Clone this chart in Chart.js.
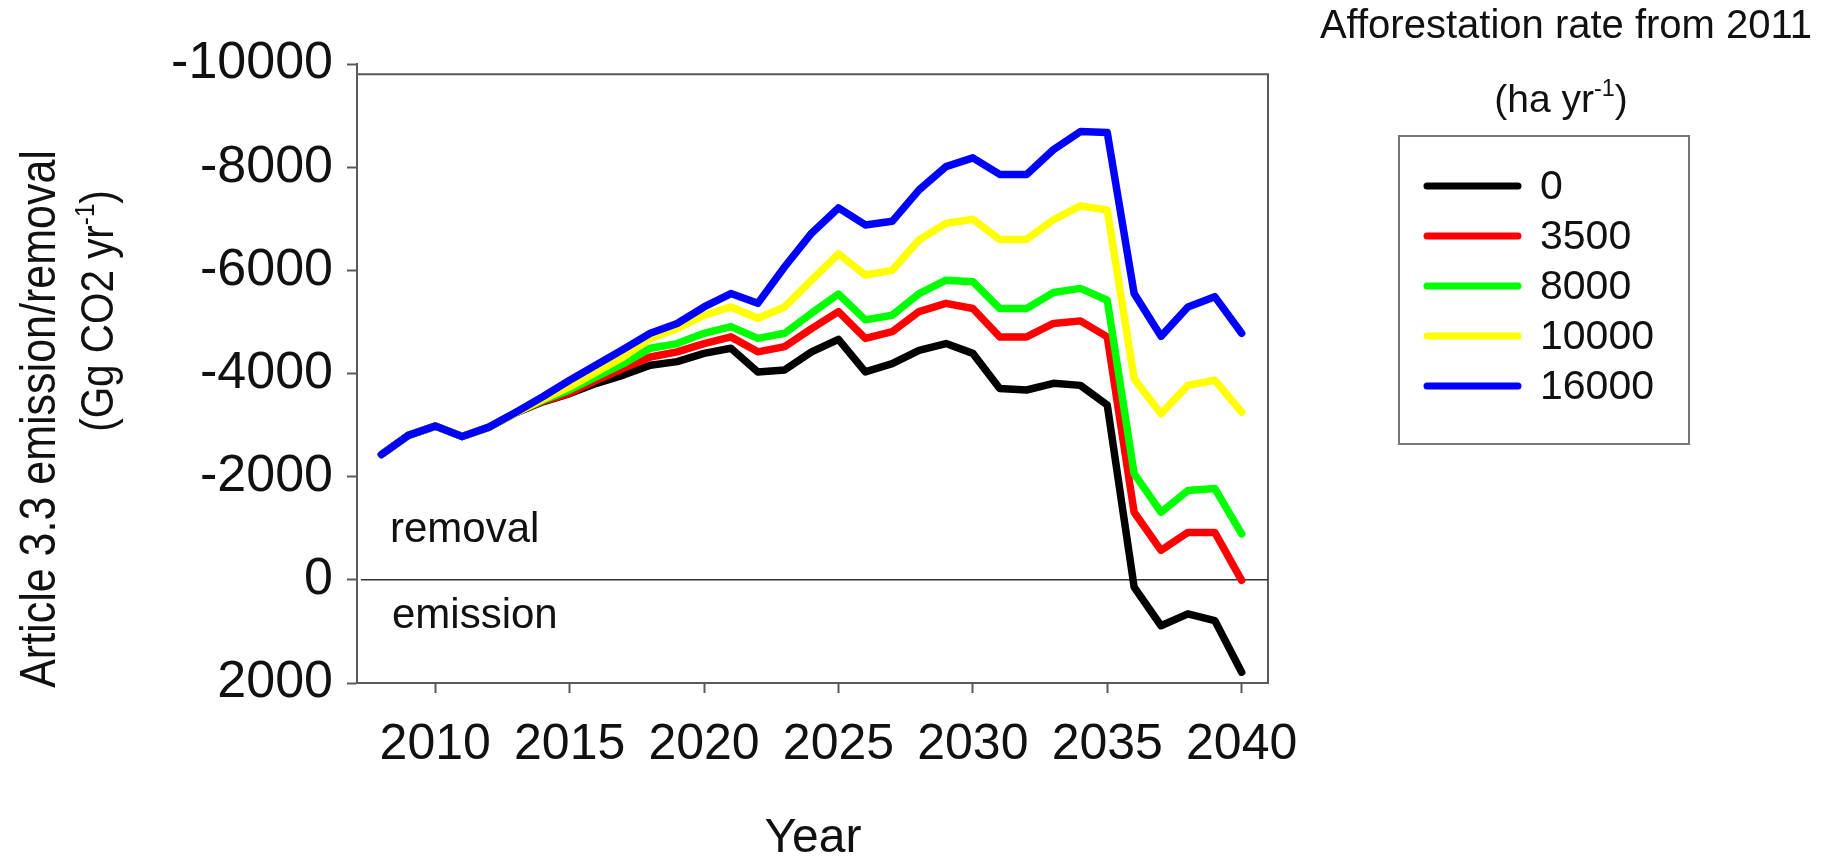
<!DOCTYPE html>
<html>
<head>
<meta charset="utf-8">
<script src="https://cdn.jsdelivr.net/npm/chart.js@4.4.1/dist/chart.umd.min.js"></script>
<style>
  html, body { margin: 0; padding: 0; background: #fff; }
  #wrap { width: 1846px; height: 856px; }
</style>
</head>
<body>
<div id="wrap"><canvas id="myChart" width="1846" height="856"></canvas></div>
<script>
// values (negative = removal)
const years = [2008, 2009, 2010, 2011, 2012, 2013, 2014, 2015, 2016, 2017, 2018,
               2019, 2020, 2021, 2022, 2023, 2024, 2025, 2026, 2027, 2028, 2029,
               2030, 2031, 2032, 2033, 2034, 2035, 2036, 2037, 2038, 2039, 2040];

const rate0 = [-2430, -2800, -2980, -2780, -2960, -3240, -3450, -3610, -3810, -3970, -4160,
               -4230, -4390, -4490, -4030, -4070, -4420, -4660, -4030, -4190, -4450, -4580,
               -4390, -3710, -3680, -3810, -3770, -3390, 140, 890, 660, 790, 1790];
const rate3500 = [-2430, -2800, -2980, -2780, -2960, -3240, -3460, -3620, -3870, -4100, -4320,
                  -4420, -4580, -4710, -4420, -4520, -4870, -5200, -4680, -4810, -5200, -5360,
                  -5260, -4710, -4710, -4970, -5020, -4710, -1310, -570, -920, -920, 10];
const rate8000 = [-2430, -2800, -2980, -2780, -2960, -3240, -3480, -3680, -3940, -4190, -4490,
                  -4580, -4780, -4910, -4680, -4780, -5170, -5540, -5040, -5130, -5550, -5810,
                  -5780, -5260, -5260, -5570, -5650, -5420, -2060, -1310, -1730, -1770, -890];
const rate10000 = [-2430, -2800, -2980, -2780, -2960, -3240, -3500, -3740, -4030, -4320, -4680,
                   -4870, -5130, -5290, -5070, -5290, -5810, -6320, -5910, -6000, -6590, -6910,
                   -6990, -6600, -6600, -6980, -7250, -7170, -3900, -3220, -3770, -3870, -3250];
const rate16000 = [-2430, -2800, -2980, -2780, -2960, -3250, -3550, -3870, -4170, -4470, -4780,
                   -4970, -5290, -5550, -5360, -6070, -6720, -7210, -6880, -6950, -7560, -8010,
                   -8180, -7860, -7860, -8340, -8690, -8670, -5550, -4720, -5290, -5490, -4780];

const seriesNames = ['0', '3500', '8000', '10000', '16000'];
const seriesData = [rate0, rate3500, rate8000, rate10000, rate16000];
const seriesColors = ['#000000', '#ff0000', '#00ff00', '#ffff00', '#0000ff'];

const yTicks = [-10000, -8000, -6000, -4000, -2000, 0, 2000];
const xTicks = [2010, 2015, 2020, 2025, 2030, 2035, 2040];

const AXIS = '#5a5a5a';
const SANS = '"Liberation Sans", Arial, sans-serif';

// draws a run of text pieces, some of them superscript
function drawParts(ctx, parts, x, y, size, family, align) {
    var total = 0;
    parts.forEach(function (p) {
        ctx.font = (p.sup ? size * 0.6 : size) + 'px ' + family;
        p.w = ctx.measureText(p.t).width;
        total += p.w;
    });
    var cx = align === 'center' ? x - total / 2 : x;
    ctx.textAlign = 'left';
    ctx.textBaseline = 'alphabetic';
    parts.forEach(function (p) {
        ctx.font = (p.sup ? size * 0.6 : size) + 'px ' + family;
        ctx.fillText(p.t, cx, p.sup ? y - size * 0.4 : y);
        cx += p.w;
    });
}

const decorPlugin = {
    id: 'decor',
    beforeDatasetsDraw(chart) {
        const ctx = chart.ctx, a = chart.chartArea, y = chart.scales.y;
        ctx.save();
        // box around the plot (top and right sides)
        const top = y.getPixelForValue(-9800);
        ctx.strokeStyle = AXIS;
        ctx.lineWidth = 2;
        ctx.beginPath();
        ctx.moveTo(a.left, top);
        ctx.lineTo(a.right, top);
        ctx.lineTo(a.right, a.bottom);
        ctx.stroke();
        // zero line
        const z = y.getPixelForValue(0);
        ctx.strokeStyle = '#333';
        ctx.lineWidth = 1.5;
        ctx.beginPath();
        ctx.moveTo(a.left + 4, z);
        ctx.lineTo(a.right, z);
        ctx.stroke();
        ctx.restore();
    },
    afterDraw(chart) {
        const ctx = chart.ctx;
        ctx.save();
        ctx.fillStyle = '#111';

        // y axis title, two rotated lines in a narrow face
        ctx.save();
        ctx.translate(55, 419);
        ctx.rotate(-Math.PI / 2);
        ctx.scale(0.86, 1);
        drawParts(ctx, [{ t: 'Article 3.3 emission/removal' }], 0, 0, 50, SANS, 'center');
        ctx.restore();
        ctx.save();
        ctx.translate(113, 311);
        ctx.rotate(-Math.PI / 2);
        ctx.scale(0.86, 1);
        drawParts(ctx, [{ t: '(Gg CO2 yr' }, { t: '-1', sup: true }, { t: ')' }], 0, 0, 47, SANS, 'center');
        ctx.restore();

        // x axis title
        drawParts(ctx, [{ t: 'Year' }], 813, 852, 48, SANS, 'center');

        // region labels
        drawParts(ctx, [{ t: 'removal' }], 390, 542, 42, SANS, 'left');
        drawParts(ctx, [{ t: 'emission' }], 392, 628, 42, SANS, 'left');

        // legend title
        drawParts(ctx, [{ t: 'Afforestation rate from 2011' }], 1566, 38, 40, SANS, 'center');
        drawParts(ctx, [{ t: '(ha yr' }, { t: '-1', sup: true }, { t: ')' }], 1561, 112, 39, SANS, 'center');

        // legend box
        ctx.strokeStyle = '#777';
        ctx.lineWidth = 2;
        ctx.strokeRect(1399, 136, 290, 308);
        seriesNames.forEach(function (name, i) {
            const ly = 186 + i * 50;
            ctx.strokeStyle = seriesColors[i];
            ctx.lineWidth = 7;
            ctx.lineCap = 'round';
            ctx.beginPath();
            ctx.moveTo(1427, ly);
            ctx.lineTo(1518, ly);
            ctx.stroke();
            ctx.fillStyle = '#111';
            ctx.font = '41px ' + SANS;
            ctx.textAlign = 'left';
            ctx.textBaseline = 'middle';
            ctx.fillText(name, 1540, ly + 2);
        });
        ctx.restore();
    }
};

const ctx = document.getElementById('myChart').getContext('2d');

const datasets = seriesNames.map(function (name, i) {
    return {
        label: name,
        data: years.map(function (yr, j) { return { x: yr, y: seriesData[i][j] }; }),
        borderColor: seriesColors[i],
        backgroundColor: seriesColors[i],
        borderWidth: 7.5,
        pointRadius: 0,
        order: seriesNames.length - i
    };
});

new Chart(ctx, {
    type: 'line',
    data: { datasets: datasets },
    options: {
        responsive: false,
        animation: false,
        devicePixelRatio: 1,
        layout: { padding: { left: 0, top: 64, right: 578, bottom: 0 } },
        plugins: { legend: { display: false }, tooltip: { enabled: false } },
        elements: {
            line: { tension: 0, borderJoinStyle: 'round', borderCapStyle: 'round' }
        },
        scales: {
            x: {
                type: 'linear',
                min: 2007.09,
                max: 2040.98,
                afterFit: function (s) { s.height = 173; },
                afterBuildTicks: function (s) { s.ticks = xTicks.map(function (v) { return { value: v }; }); },
                grid: { drawOnChartArea: false, tickLength: 10, tickColor: AXIS, tickWidth: 2 },
                border: { color: AXIS, width: 2 },
                ticks: {
                    padding: 22, maxRotation: 0, autoSkip: false, color: '#111',
                    font: { family: SANS, size: 50 },
                    callback: function (v) { return String(v); }
                }
            },
            y: {
                type: 'linear',
                reverse: true,
                min: -10000,
                max: 2000,
                afterFit: function (s) { s.width = 357; },
                afterBuildTicks: function (s) { s.ticks = yTicks.map(function (v) { return { value: v }; }); },
                grid: { drawOnChartArea: false, tickLength: 10, tickColor: AXIS, tickWidth: 2 },
                border: { color: AXIS, width: 2 },
                ticks: {
                    padding: 14, color: '#111',
                    font: { family: SANS, size: 52 },
                    callback: function (v) { return String(v); }
                }
            }
        }
    },
    plugins: [decorPlugin]
});
</script>
</body>
</html>
